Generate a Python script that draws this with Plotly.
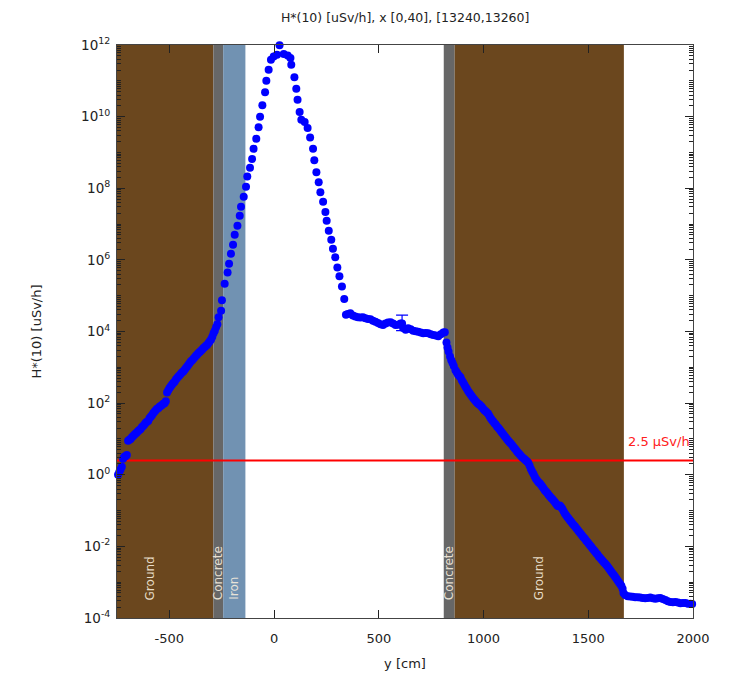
import plotly.graph_objects as go

# ---- data (position in cm, log10 of H*(10) in uSv/h) ----
y_cm = [
    -745, -739, -733, -727, -721, -715, -709, -703, -697, -691, -685, -679, -673, -667, -661, -655,
    -649, -643, -637, -631, -625, -619, -613, -607, -601, -595, -589, -583, -577, -571, -565, -559,
    -553, -547, -541, -535, -529, -523, -517, -511, -505, -499, -493, -487, -481, -475, -469, -463,
    -457, -451, -445, -439, -433, -427, -421, -415, -409, -403, -397, -391, -385, -379, -373, -367,
    -361, -355, -349, -343, -337, -331, -325, -319, -313, -307, -301, -295, -289, -283, -277, -271,
    -265, -253, -249, -236, -222, -215, -206, -196, -188, -175, -164, -158, -145, -134, -128, -115,
    -105, -98, -85, -74, -67, -56, -43, -37, -26, -15, -2, 14, 26, 46, 65, 78, 82, 97, 106, 112,
    122, 130, 146, 160, 172, 186, 192, 202, 213, 221, 234, 245, 251, 261, 273, 281, 292, 302, 312,
    324, 335, 343,
    352, 364, 376, 388, 400, 412, 424, 436, 448, 460, 472, 484, 496, 508, 520, 532, 544, 556, 568,
    580, 592, 604, 616, 628, 640, 652, 664, 676, 688, 700, 712, 724, 736, 748, 760, 772, 784, 796,
    808, 815,
    823, 828, 833, 840, 846, 852, 858, 866, 872, 878, 884, 890, 896, 902, 908, 914, 920, 926, 932,
    938, 944, 950, 956, 962, 968, 974, 980, 986, 992, 998, 1004, 1010, 1016, 1022, 1028, 1034, 1040,
    1046, 1052, 1058, 1064, 1070, 1076, 1082, 1088, 1094, 1100, 1106, 1112, 1118, 1124, 1130, 1136,
    1142, 1148, 1154, 1160, 1166, 1172, 1178, 1184, 1190, 1196, 1202, 1208, 1214, 1220, 1226, 1232,
    1238, 1244, 1250, 1256, 1262, 1268, 1274, 1280, 1286, 1292, 1298, 1304, 1310, 1316, 1322, 1328,
    1334, 1340, 1346, 1352, 1358, 1364, 1370, 1376, 1382, 1388, 1394, 1400, 1406, 1412, 1418, 1424,
    1430, 1436, 1442, 1448, 1454, 1460, 1466, 1472, 1478, 1484, 1490, 1496, 1502, 1508, 1514, 1520,
    1526, 1532, 1538, 1544, 1550, 1556, 1562, 1568, 1574, 1580, 1586, 1592, 1598, 1604, 1610, 1616,
    1622, 1628, 1634, 1640, 1646, 1652, 1658, 1664, 1668,
    1676, 1688, 1700, 1712, 1724, 1736, 1748, 1760, 1772, 1784, 1796, 1808, 1820, 1832, 1844, 1856,
    1868, 1880, 1892, 1904, 1916, 1928, 1940, 1952, 1964, 1976, 1988, 1996,
]
log_dose = [
    0.00, 0.08, 0.15, 0.22, 0.45, 0.50, 0.52, 0.55, 0.95, 0.98, 1.00, 1.05, 1.08, 1.12, 1.15, 1.18,
    1.22, 1.25, 1.28, 1.33, 1.36, 1.40, 1.45, 1.48, 1.50, 1.58, 1.62, 1.66, 1.72, 1.76, 1.80, 1.84,
    1.86, 1.90, 1.92, 1.95, 1.98, 2.00, 2.05, 2.30, 2.36, 2.42, 2.47, 2.52, 2.56, 2.60, 2.66, 2.70,
    2.74, 2.78, 2.82, 2.86, 2.88, 2.93, 2.98, 3.02, 3.07, 3.12, 3.17, 3.20, 3.24, 3.28, 3.32, 3.36,
    3.40, 3.43, 3.46, 3.50, 3.54, 3.57, 3.60, 3.63, 3.68, 3.73, 3.78, 3.85, 3.95, 4.02, 4.12, 4.20,
    4.40, 4.58, 4.87, 5.33, 5.65, 5.89, 6.17, 6.42, 6.70, 6.95, 7.23, 7.48, 7.76, 8.04, 8.33, 8.57,
    8.82, 9.10, 9.38, 9.70, 10.00, 10.32, 10.68, 11.00, 11.31, 11.59, 11.68, 11.73, 11.99, 11.75,
    11.71, 11.64, 11.45, 11.10, 10.78, 10.47,
    10.13, 9.91, 9.85, 9.68, 9.42, 9.10, 8.78, 8.45, 8.17, 7.89, 7.62, 7.34, 7.09, 6.81, 6.56, 6.31,
    6.07, 5.79, 5.54, 5.26, 4.91, 4.47,
    4.49, 4.51, 4.45, 4.42, 4.40, 4.39, 4.40, 4.37, 4.35, 4.34, 4.30, 4.27, 4.24, 4.20, 4.18, 4.22,
    4.25, 4.26, 4.22, 4.18, 4.19, 4.22, 4.10, 4.05, 4.09, 4.06, 4.02, 4.01, 3.99, 3.97, 3.95, 3.96,
    3.95, 3.92, 3.90, 3.89, 3.87, 3.92, 3.97, 3.98,
    3.69, 3.55, 3.44, 3.30, 3.20, 3.12, 3.04, 2.92, 2.86, 2.80, 2.76, 2.72, 2.64, 2.58, 2.52, 2.46,
    2.40, 2.34, 2.29, 2.24, 2.19, 2.14, 2.10, 2.06, 2.02, 1.98, 1.96, 1.93, 1.89, 1.84, 1.80, 1.77,
    1.74, 1.70, 1.64, 1.58, 1.53, 1.49, 1.44, 1.40, 1.35, 1.31, 1.27, 1.22, 1.17, 1.13, 1.08, 1.04,
    0.99, 0.95, 0.91, 0.87, 0.83, 0.78, 0.74, 0.70, 0.65, 0.61, 0.57, 0.53, 0.49, 0.46, 0.43, 0.40,
    0.37, 0.33, 0.25, 0.16, 0.09, 0.03, -0.05, -0.11, -0.16, -0.21, -0.24, -0.28, -0.33, -0.38,
    -0.43, -0.47, -0.51, -0.56, -0.60, -0.64, -0.68, -0.72, -0.76, -0.81, -0.86, -0.88, -0.86,
    -0.90, -0.95, -1.02, -1.08, -1.13, -1.18, -1.22, -1.27, -1.31, -1.36, -1.40, -1.44, -1.49,
    -1.53, -1.58, -1.62, -1.66, -1.71, -1.75, -1.79, -1.84, -1.88, -1.93, -1.97, -2.01, -2.06,
    -2.10, -2.14, -2.19, -2.23, -2.28, -2.32, -2.36, -2.40, -2.44, -2.48, -2.52, -2.56, -2.61,
    -2.66, -2.71, -2.76, -2.80, -2.85, -2.90, -2.95, -3.00, -3.05, -3.10, -3.18, -3.30,
    -3.36, -3.39, -3.40, -3.41, -3.42, -3.42, -3.43, -3.44, -3.45, -3.44, -3.43, -3.45, -3.46,
    -3.45, -3.44, -3.47, -3.50, -3.53, -3.55, -3.56, -3.55, -3.57, -3.59, -3.58, -3.58, -3.60,
    -3.60, -3.61,
]
dose = [10 ** v for v in log_dose]

# the one visible error bar
err_y_cm = [611]
err_dose = [1.66e4]
err_plus = [1.22e4]
err_minus = [0.6e4]

# material layers (cm)
band_names = ["Ground", "Concrete", "Iron", "Concrete", "Ground"]
band_start = [-900, -290, -243, 810, 862]
band_end = [-290, -243, -137, 862, 1670]
band_colors = ["#6b471e", "#676767", "#7192b2", "#676767", "#6b471e"]

limit_value = 2.5
limit_label = "2.5 µSv/h"

x_ticks = [-500, 0, 500, 1000, 1500, 2000]
x_tick_labels = ["-500", "0", "500", "1000", "1500", "2000"]
y_exponents = [-4, -2, 0, 2, 4, 6, 8, 10, 12]

FONT = "DejaVu Sans"

# minor tick positions on the log axis: 1..9 x 10^k
minor_vals = [m * 10.0 ** k for k in range(-4, 12) for m in range(1, 10)] + [1e12]

fig = go.Figure()

shapes = []
annotations = []
for name, s, e, c in zip(band_names, band_start, band_end, band_colors):
    shapes.append(dict(type="rect", xref="x", yref="paper", x0=s, x1=e, y0=0, y1=1,
                       fillcolor=c, line=dict(width=0), layer="below"))
    annotations.append(dict(text=name, x=(s + e) / 2, xref="x", y=0.028, yref="paper",
                            textangle=-90, xanchor="center", yanchor="bottom", showarrow=False,
                            font=dict(family=FONT, size=12, color="rgba(245,235,220,0.92)")))

# limit line
fig.add_trace(go.Scatter(x=[-750, 2000], y=[limit_value, limit_value], mode="lines",
                         line=dict(color="#ff0000", width=2), hoverinfo="skip", showlegend=False))
annotations.append(dict(text=limit_label, x=0.998, xref="paper", y=0.292, yref="paper",
                        xanchor="right", yanchor="bottom", showarrow=False,
                        font=dict(family=FONT, size=13, color="#ff2020")))

fig.add_trace(go.Scatter(x=y_cm, y=dose, mode="markers", cliponaxis=False,
                         marker=dict(color="#0000ff", size=8, line=dict(width=0)),
                         showlegend=False))
fig.add_trace(go.Scatter(x=err_y_cm, y=err_dose, mode="markers", cliponaxis=False,
                         marker=dict(color="#0000ff", size=8),
                         error_y=dict(type="data", array=err_plus, arrayminus=err_minus,
                                      color="#0000ff", thickness=1.2, width=6),
                         showlegend=False))

fig.update_layout(
    width=730, height=685,
    margin=dict(l=117, r=37, t=45, b=67),
    paper_bgcolor="white", plot_bgcolor="white",
    font=dict(family=FONT, size=13, color="#222"),
    title=dict(text="H*(10) [uSv/h], x [0,40], [13240,13260]", x=0.555, xanchor="center",
               y=0.974, yanchor="middle", font=dict(family=FONT, size=12.5, color="#222")),
    shapes=shapes, annotations=annotations,
    xaxis=dict(range=[-750, 2000], tickmode="array", tickvals=x_ticks, ticktext=x_tick_labels,
               ticks="inside", ticklen=8, tickcolor="#222", showline=True, linecolor="#444",
               mirror="ticks", showgrid=False, zeroline=False, ticklabelstandoff=8,
               tickfont=dict(family=FONT, size=13, color="#222"),
               title=dict(text="y [cm]", standoff=14, font=dict(family=FONT, size=13))),
    yaxis=dict(type="log", range=[-4, 12], tickmode="array",
               tickvals=[10 ** e for e in y_exponents],
               ticktext=["10<sup>%d</sup>" % e for e in y_exponents],
               ticks="inside", ticklen=8, tickcolor="#222", showline=True, linecolor="#444",
               mirror="ticks", showgrid=False, zeroline=False, ticklabelstandoff=3,
               minor=dict(ticks="inside", ticklen=4, tickcolor="#222", tickmode="array",
                          tickvals=minor_vals, showgrid=False),
               tickfont=dict(family=FONT, size=13.5, color="#222"),
               title=dict(text="H*(10) [uSv/h]", standoff=36, font=dict(family=FONT, size=13))),
)

fig.write_html("out.html")
